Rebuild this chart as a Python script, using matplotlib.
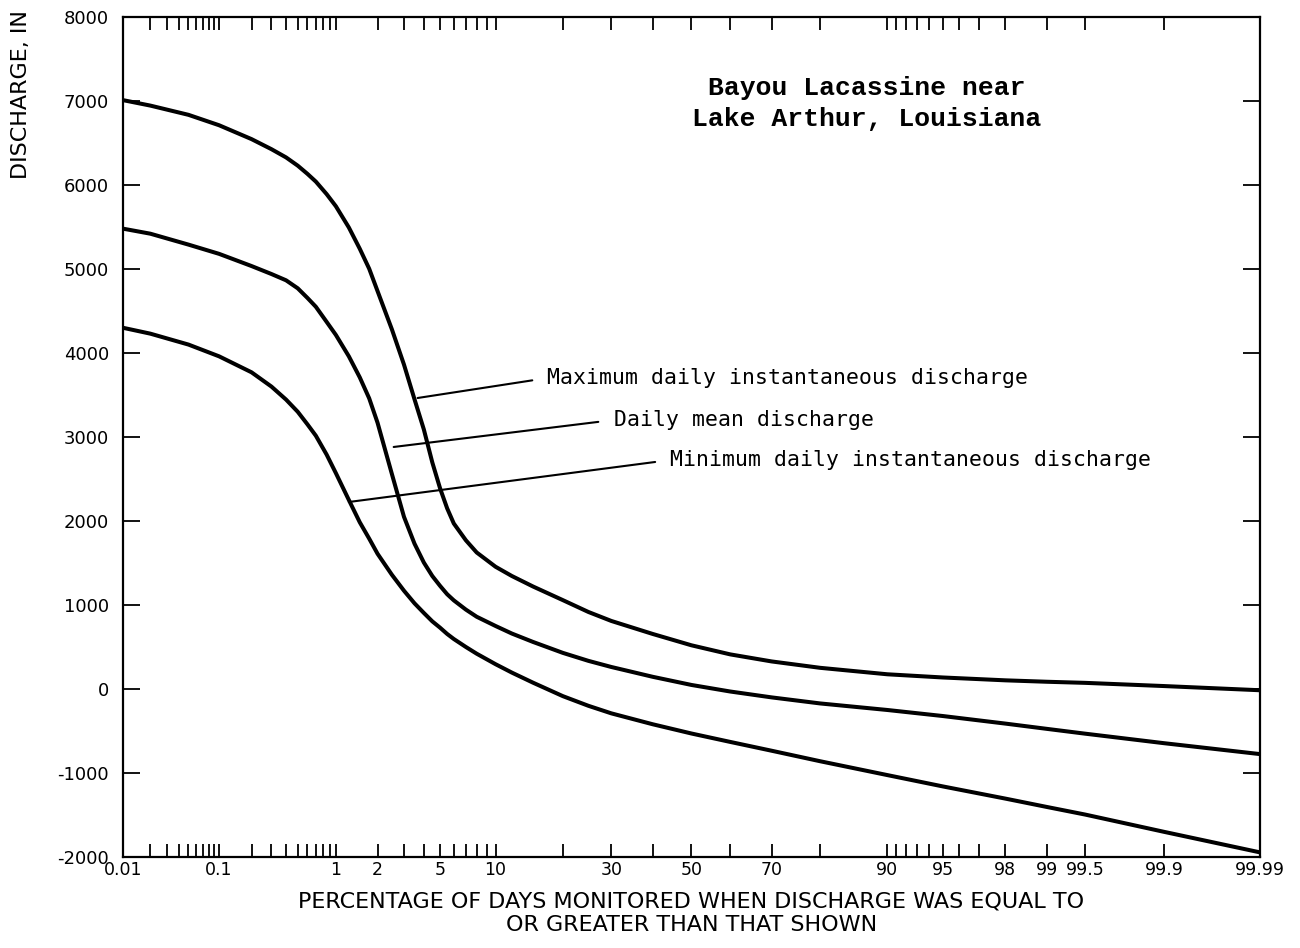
import numpy as np
import matplotlib
matplotlib.use("Agg")
import matplotlib.pyplot as plt
from statistics import NormalDist

# Flow-duration data: percentage of days discharge was equalled or exceeded
percent = [0.01, 0.02, 0.05, 0.1, 0.2, 0.3, 0.4, 0.5, 0.6, 0.7, 0.85, 1,
           1.25, 1.5, 1.75, 2, 2.5, 3, 3.5, 4, 4.5, 5, 5.5, 6, 7, 8, 10, 12,
           15, 20, 25, 30, 40, 50, 60, 70, 80, 90, 95, 98, 99, 99.5, 99.9,
           99.99]

max_instantaneous = [7010, 6945, 6835, 6711, 6546, 6426, 6328, 6230, 6132,
                     6040, 5891, 5747, 5494, 5241, 5003, 4737, 4282, 3862,
                     3449, 3089, 2697, 2390, 2150, 1970, 1770, 1625, 1455,
                     1345, 1220, 1058, 917, 810, 655, 520, 412, 328, 252, 175,
                     137, 103, 86, 73, 35, -15]

daily_mean = [5480, 5420, 5290, 5180, 5035, 4940, 4865, 4770, 4655, 4550,
              4370, 4215, 3960, 3710, 3460, 3170, 2560, 2050, 1730, 1505,
              1345, 1228, 1128, 1055, 945, 860, 750, 660, 560, 430, 335, 262,
              145, 48, -30, -100, -172, -250, -322, -412, -475, -532, -645,
              -775]

min_instantaneous = [4300, 4230, 4100, 3960, 3770, 3600, 3445, 3300, 3150,
                     3015, 2790, 2570, 2250, 1985, 1790, 1610, 1360, 1170,
                     1020, 905, 805, 730, 655, 595, 500, 420, 295, 195, 75,
                     -85, -200, -290, -420, -530, -630, -735, -860, -1025,
                     -1160, -1305, -1405, -1495, -1700, -1945]

y_ticks = [-2000, -1000, 0, 1000, 2000, 3000, 4000, 5000, 6000, 7000, 8000]
y_tick_labels = ["-2000", "-1000", "0", "1000", "2000", "3000", "4000",
                 "5000", "6000", "7000", "8000"]

x_major = [0.01, 0.1, 1, 2, 5, 10, 30, 50, 70, 90, 95, 98, 99, 99.5, 99.9,
           99.99]
x_major_labels = ["0.01", "0.1", "1", "2", "5", "10", "30", "50", "70", "90",
                  "95", "98", "99", "99.5", "99.9", "99.99"]
x_minor = [0.02, 0.03, 0.04, 0.05, 0.06, 0.07, 0.08, 0.09,
           0.2, 0.3, 0.4, 0.5, 0.6, 0.7, 0.8, 0.9,
           3, 4, 6, 7, 8, 9, 20, 40, 60, 80, 91, 92, 93, 94, 96, 97]

# Normal-probability scale for the percentage axis
_nd = NormalDist()
_ppf = np.vectorize(_nd.inv_cdf, otypes=[float])
_cdf = np.vectorize(_nd.cdf, otypes=[float])


def prob_forward(p):
    q = np.clip(np.asarray(p, dtype=float) / 100.0, 1e-9, 1 - 1e-9)
    return _ppf(q)


def prob_inverse(z):
    return 100.0 * _cdf(np.asarray(z, dtype=float))


fig = plt.figure(figsize=(13, 9.48), dpi=100)
ax = fig.add_axes([0.0946, 0.096, 0.8746, 0.8861])
ax.set_xscale("function", functions=(prob_forward, prob_inverse))
ax.set_xlim(0.01, 99.99)
ax.set_ylim(-2000, 8000)

line_kw = dict(color="black", lw=2.9, solid_capstyle="round",
               solid_joinstyle="round")
ax.plot(percent, max_instantaneous, **line_kw)
ax.plot(percent, daily_mean, **line_kw)
ax.plot(percent, min_instantaneous, **line_kw)

for s in ax.spines.values():
    s.set_linewidth(1.6)

ax.set_xticks(x_major)
ax.set_xticklabels(x_major_labels)
ax.set_xticks(x_minor, minor=True)
ax.set_xticklabels([], minor=True)
ax.set_yticks(y_ticks)
ax.set_yticklabels(y_tick_labels)
ax.yaxis.set_minor_locator(matplotlib.ticker.NullLocator())

ax.tick_params(axis="x", which="both", direction="in", top=True, bottom=True,
               length=9.5, width=1.3, pad=3, labelsize=12.5)
ax.tick_params(axis="y", which="both", direction="in", left=True, right=True,
               length=12, width=1.3, pad=10, labelsize=13)
for lab in ax.get_xticklabels() + ax.get_yticklabels():
    lab.set_family("DejaVu Sans")

ax.set_xlabel("PERCENTAGE OF DAYS MONITORED WHEN DISCHARGE WAS EQUAL TO\n"
              "OR GREATER THAN THAT SHOWN", fontsize=16,
              family="DejaVu Sans", linespacing=1.2, labelpad=9)

fig.text(21 / 1300, 1 - 10 / 948, "DISCHARGE, IN", rotation=90,
         ha="center", va="top", fontsize=16, family="DejaVu Sans")

ax.text(0.654, 0.897, "Bayou Lacassine near\nLake Arthur, Louisiana",
        transform=ax.transAxes, ha="center", va="center",
        fontsize=19, family="Liberation Mono", fontweight="bold",
        linespacing=1.35)

leader = dict(arrowstyle="-", color="black", lw=1.5, relpos=(0, 0.5),
              shrinkA=9, shrinkB=0)
label_kw = dict(ha="left", va="center", fontsize=15.5,
                family="DejaVu Sans Mono")
ax.annotate("Maximum daily instantaneous discharge", xy=(3.66, 3464),
            xytext=(17.3, 3702), arrowprops=leader, **label_kw)
ax.annotate("Daily mean discharge", xy=(2.57, 2881),
            xytext=(30.5, 3202), arrowprops=leader, **label_kw)
ax.annotate("Minimum daily instantaneous discharge", xy=(1.25, 2226),
            xytext=(44.5, 2726), arrowprops=leader, **label_kw)

fig.savefig("out.png", dpi=100, facecolor="white")
